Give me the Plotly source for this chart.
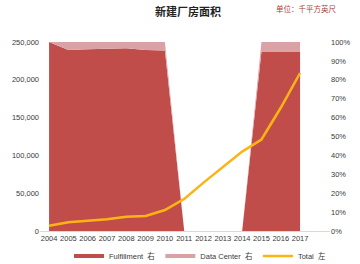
import plotly.graph_objects as go

years = [2004, 2005, 2006, 2007, 2008, 2009, 2010, 2011, 2012, 2013, 2014, 2015, 2016, 2017]
fulfillment_share = [1.0, 0.958, 0.962, 0.964, 0.967, 0.958, 0.955, 0, 0, 0, 0, 0.95, 0.95, 0.95]
datacenter_share = [0.0, 0.042, 0.038, 0.036, 0.033, 0.042, 0.045, 0, 0, 0, 0, 0.05, 0.05, 0.05]
total_sqft = [7000, 11500, 13600, 15400, 19000, 19800, 27800, 42500, 64000, 84500, 105000, 121000, 163000, 209000]

left_ticks = [0, 50000, 100000, 150000, 200000, 250000]
right_ticks = [i / 10 for i in range(11)]

RED = "#C14D4B"
PINK = "#DBA2A5"
GOLD = "#FCB414"
TXT = "#3A3A3A"
FONT = "Liberation Sans, Arial, Noto Sans CJK SC"

fig = go.Figure()
fig.add_trace(go.Scatter(x=years, y=fulfillment_share, stackgroup="s", mode="lines",
                         line=dict(width=0, color=RED), fillcolor=RED, showlegend=False,
                         yaxis="y", hoverinfo="skip"))
fig.add_trace(go.Scatter(x=years, y=datacenter_share, stackgroup="s", mode="lines",
                         line=dict(width=0, color=PINK), fillcolor=PINK, showlegend=False,
                         yaxis="y", hoverinfo="skip"))
fig.add_trace(go.Scatter(x=years, y=total_sqft, mode="lines", line=dict(color=GOLD, width=2.5),
                         yaxis="y2", showlegend=False))
# legend entries
fig.add_trace(go.Scatter(x=[None], y=[None], mode="lines", line=dict(color=RED, width=4),
                         name="Fulfillment\u00a0\u00a0右", yaxis="y"))
fig.add_trace(go.Scatter(x=[None], y=[None], mode="lines", line=dict(color=PINK, width=4),
                         name="Data Center\u00a0\u00a0右", yaxis="y"))
fig.add_trace(go.Scatter(x=[None], y=[None], mode="lines", line=dict(color=GOLD, width=2.5),
                         name="Total\u00a0\u00a0左", yaxis="y2"))

fig.update_layout(
    width=360, height=264,
    margin=dict(l=40, r=30, t=42, b=33, autoexpand=False),
    paper_bgcolor="white", plot_bgcolor="white",
    font=dict(family=FONT, size=7.5, color=TXT),
    xaxis=dict(range=[2003.53, 2018.55], tickmode="array", tickvals=years,
               ticktext=[str(y) for y in years], showgrid=False, zeroline=False,
               showline=True, linecolor="#D9D9D9", linewidth=1, ticks="",
               tickfont=dict(size=7.5, color=TXT)),
    yaxis=dict(range=[0, 1], side="right", tickmode="array", tickvals=right_ticks,
               ticktext=[f"{int(round(v*100))}%" for v in right_ticks],
               showgrid=False, zeroline=False, showline=False, ticks="",
               tickfont=dict(size=7.5, color=TXT)),
    yaxis2=dict(range=[0, 250000], side="left", overlaying="y", tickmode="array",
                tickvals=left_ticks, ticktext=[f"{v:,}" for v in left_ticks],
                showgrid=False, zeroline=False, showline=False, ticks="",
                tickfont=dict(size=7.5, color=TXT)),
    legend=dict(orientation="h", x=(200-40)/290, xanchor="center", y=-(256-231)/189,
                yanchor="middle", font=dict(size=7.5, color=TXT), itemwidth=30,
                traceorder="normal", bgcolor="rgba(0,0,0,0)"),
    annotations=[
        dict(text="<b>新建厂房面积</b>", xref="paper", yref="paper", x=(187.5-40)/290, y=1 + (42-11)/189,
             xanchor="center", yanchor="middle", showarrow=False,
             font=dict(size=11, color="#222222", family="Noto Sans CJK SC")),
        dict(text="单位：千平方英尺", xref="paper", yref="paper", x=(306-40)/290, y=1 + (42-9)/189,
             xanchor="center", yanchor="middle", showarrow=False,
             font=dict(size=7.5, color="#A8403C", family="Noto Sans CJK SC")),
    ],
)

fig.write_html("out.html")
